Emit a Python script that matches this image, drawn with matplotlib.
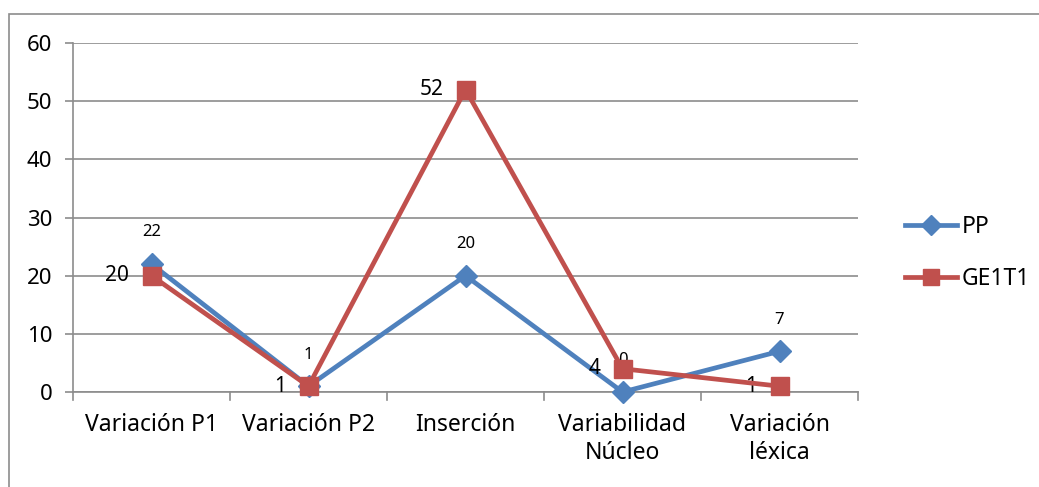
import matplotlib.pyplot as plt
from matplotlib.patches import Rectangle
from matplotlib.lines import Line2D

categories = ['Variación P1', 'Variación P2', 'Inserción', 'Variabilidad\nNúcleo', 'Variación\nléxica']
pp = [22, 1, 20, 0, 7]
ge1t1 = [20, 1, 52, 4, 1]
yticks = [0, 10, 20, 30, 40, 50, 60]

BLUE = '#4F81BD'
RED = '#C0504D'
GRID = '#8C8C8C'

plt.rcParams['font.family'] = ['Noto Sans', 'DejaVu Sans']


def main():
    fig = plt.figure(figsize=(10.39, 4.87), dpi=100)
    W, H = 1039, 487
    ax = fig.add_axes([73 / W, 1 - 392 / H, (858 - 73) / W, (392 - 43) / H])

    # outer chart frame
    fig.patches.append(Rectangle((9 / W, -0.1), 1.2, 1 - 14 / H + 0.1,
                                 transform=fig.transFigure, fill=False,
                                 edgecolor='#8C8C8C', lw=1.2))

    x = list(range(len(categories)))
    ax.plot(x, pp, color=BLUE, lw=3.4, marker='D', ms=11, mec=BLUE, mfc=BLUE,
            zorder=3, clip_on=False)
    ax.plot(x, ge1t1, color=RED, lw=3.4, marker='s', ms=13, mec=RED, mfc=RED,
            zorder=4, clip_on=False)

    for xi, v in zip(x, pp):
        ax.annotate(str(v), (xi, v), xytext=(0, 17), textcoords='offset points',
                    ha='center', va='bottom', fontsize=12)
    for xi, v in zip(x, ge1t1):
        ax.annotate(str(v), (xi, v), xytext=(-16, 0), textcoords='offset points',
                    ha='right', va='center', fontsize=15)

    ax.set_xlim(-0.5, len(categories) - 0.5)
    ax.set_ylim(0, 60)
    ax.set_yticks(yticks)
    ax.set_xticks(x)
    ax.set_xticklabels(categories, fontsize=16.5, linespacing=1.25)
    ax.tick_params(axis='y', labelsize=16, length=6, color=GRID, width=1.2, pad=9)
    ax.tick_params(axis='x', length=0, pad=15)
    for b in [k - 0.5 for k in range(len(categories) + 1)]:
        ax.plot([b, b], [0, -1.3], color=GRID, lw=1.2, clip_on=False)

    ax.grid(axis='y', color=GRID, lw=1.2)
    ax.set_axisbelow(True)
    for s in ['top', 'right']:
        ax.spines[s].set_visible(False)
    for s in ['left', 'bottom']:
        ax.spines[s].set_color(GRID)
        ax.spines[s].set_linewidth(1.2)

    handles = [Line2D([], [], color=BLUE, lw=3.4, marker='D', ms=10),
               Line2D([], [], color=RED, lw=3.4, marker='s', ms=12)]
    fig.legend(handles, ['PP', 'GE1T1'], loc='center left',
               bbox_to_anchor=(884 / W, 1 - 253 / H), frameon=False,
               fontsize=16.5, handlelength=2.3, handletextpad=0.2,
               labelspacing=1.25)

    fig.savefig('out.png', dpi=100)


if __name__ == '__main__':
    main()
